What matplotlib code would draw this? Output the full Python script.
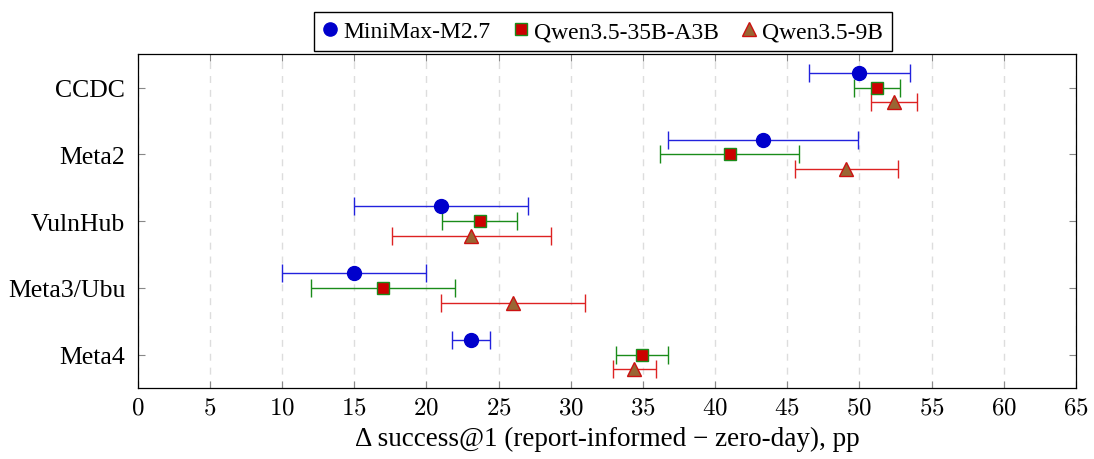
import matplotlib
matplotlib.use("Agg")
import matplotlib.pyplot as plt
from matplotlib.lines import Line2D
import numpy as np

# data
benchmarks = ["CCDC", "Meta2", "VulnHub", "Meta3/Ubu", "Meta4"]
models = ["MiniMax-M2.7", "Qwen3.5-35B-A3B", "Qwen3.5-9B"]

minimax_mean = [50.0, 43.3, 21.0, 15.0, 23.1]
minimax_err = [3.5, 6.6, 6.0, 5.0, 1.3]
qwen35_mean = [51.2, 41.0, 23.7, 17.0, 34.9]
qwen35_err = [1.6, 4.8, 2.6, 5.0, 1.8]
qwen9_mean = [52.4, 49.1, 23.1, 26.0, 34.4]
qwen9_err = [1.6, 3.6, 5.5, 5.0, 1.5]

plt.rcParams["font.family"] = ["Liberation Serif", "DejaVu Serif"]
plt.rcParams["mathtext.fontset"] = "cm"

fig = plt.figure(figsize=(10.94, 4.6), dpi=100)
ax = fig.add_axes([0.126, 0.154, 0.8575, 0.726])

y = np.arange(len(benchmarks))
offset = 0.22

styles = [
    (minimax_mean, minimax_err, -offset, "o", "#0000cc", "#0000cc", "#2222dd", 10),
    (qwen35_mean, qwen35_err, 0.0, "s", "#cc0000", "#1a8c1a", "#1a8c1a", 9),
    (qwen9_mean, qwen9_err, offset, "^", "#996633", "#cc1111", "#dd2222", 10),
]

handles = []
for (mean, err, off, mk, fc, ec, lc, ms), name in zip(styles, models):
    ax.errorbar(mean, y + off, xerr=err, fmt=mk, ms=ms, mfc=fc, mec=ec, mew=1.0,
                ecolor=lc, elinewidth=1.0, capsize=6.5, capthick=1.0, zorder=3)
    handles.append(Line2D([], [], linestyle="none", marker=mk, ms=ms * 0.95,
                          mfc=fc, mec=ec, mew=1.0, label=name))

ax.set_xlim(0, 65)
ax.set_ylim(4.5, -0.5)
ax.set_xticks(np.arange(0, 66, 5))
ax.set_xticklabels([f"${v}$" for v in range(0, 66, 5)])
ax.set_yticks(y)
ax.set_yticklabels(benchmarks)
ax.tick_params(axis="x", labelsize=18, direction="in", top=True, color="#888888",
               length=5, pad=6)
ax.tick_params(axis="y", labelsize=18.5, direction="in", right=True, color="#888888",
               length=5, pad=9)
ax.grid(axis="x", color="#dddddd", linestyle=(0, (5, 5)), linewidth=1.0)
ax.set_axisbelow(True)
for s in ax.spines.values():
    s.set_linewidth(0.9)

ax.set_xlabel("Δ success@1 (report-informed − zero-day), pp", fontsize=19.5, labelpad=5)

ax.legend(handles=handles, loc="lower center", bbox_to_anchor=(0.496, 1.009), ncol=3,
          fontsize=17, frameon=True, fancybox=False, edgecolor="black",
          handlelength=0.6, handletextpad=0.25, columnspacing=1.0, borderpad=0.38,
          borderaxespad=0.0, framealpha=1.0)

fig.savefig("out.png", dpi=100)
